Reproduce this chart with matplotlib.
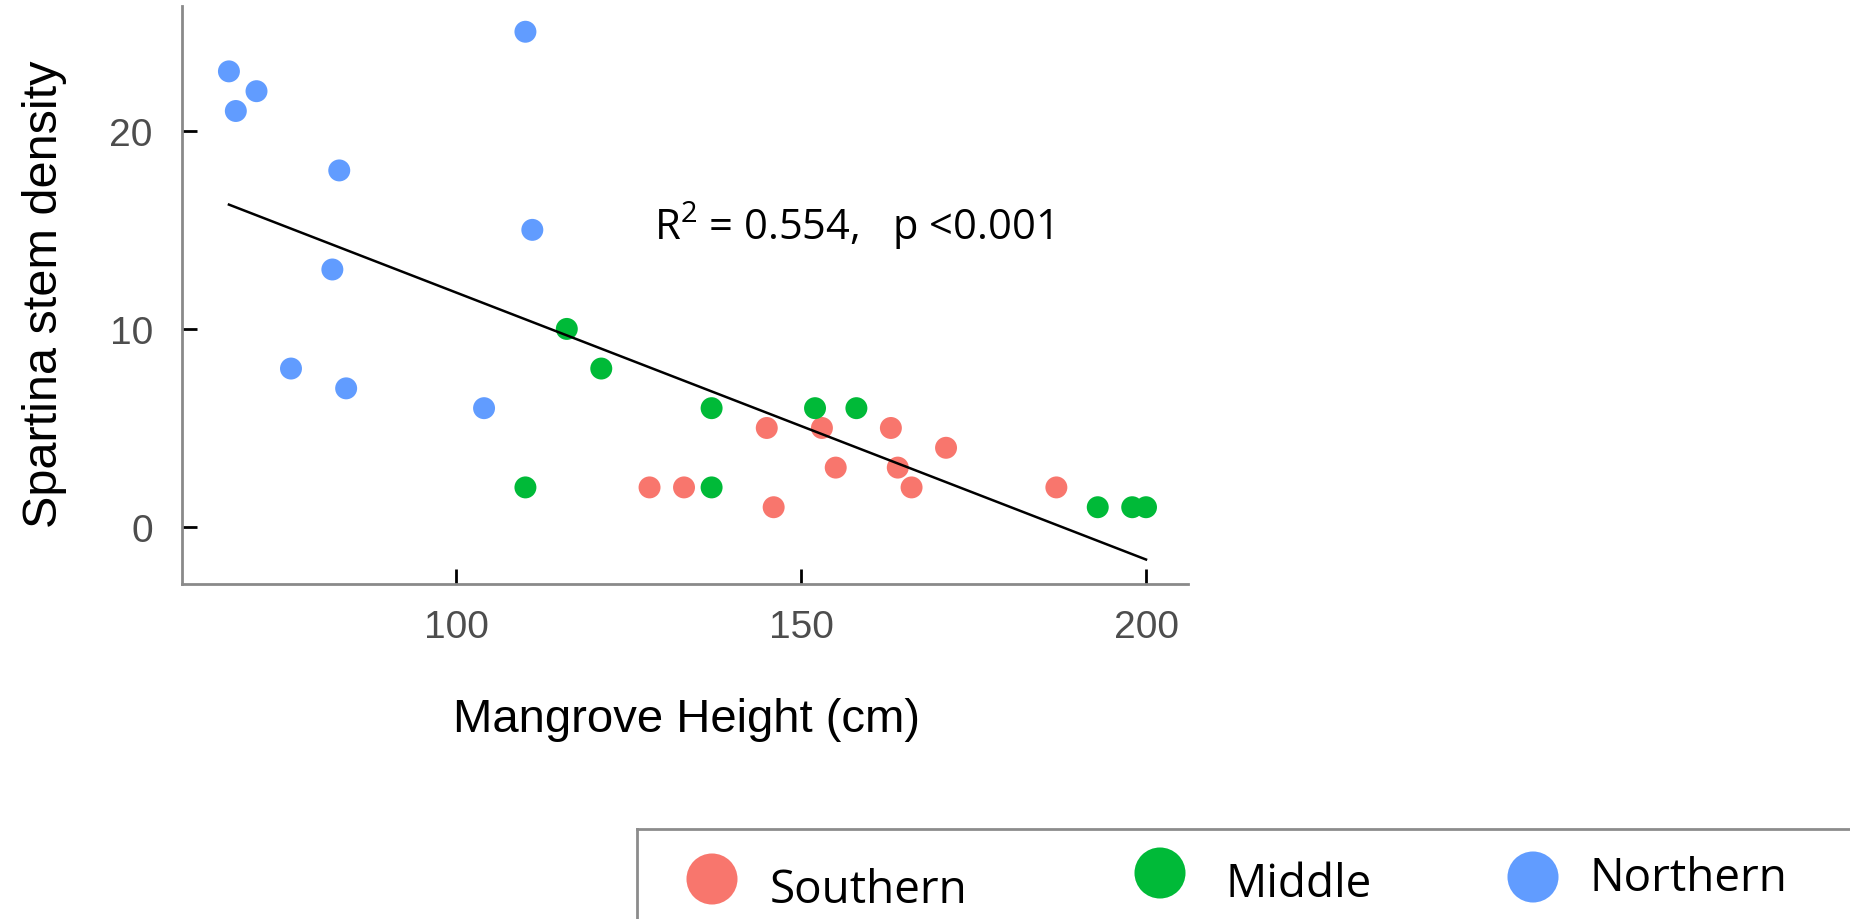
import matplotlib.pyplot as plt
import numpy as np

# Mangrove height (cm) and Spartina stem density for each site, by region
south_height = [128, 133, 145, 146, 153, 155, 163, 164, 166, 171, 187]
south_density = [2, 2, 5, 1, 5, 3, 5, 3, 2, 4, 2]
middle_height = [110, 116, 121, 137, 137, 152, 158, 193, 198, 200]
middle_density = [2, 10, 8, 6, 2, 6, 6, 1, 1, 1]
north_height = [67, 68, 71, 76, 82, 83, 84, 104, 110, 111]
north_density = [23, 21, 22, 8, 13, 18, 7, 6, 25, 15]

regions = ['Southern', 'Middle', 'Northern']
colors = ['#F8766D', '#00BA38', '#619CFF']

# linear fit of density on height
fit_intercept = 25.3
fit_slope = -0.1347
r_squared = 0.554
p_text = 'p <0.001'

plt.rcParams['mathtext.fontset'] = 'custom'
plt.rcParams['mathtext.rm'] = 'Open Sans'

groups = [(south_height, south_density), (middle_height, middle_density),
          (north_height, north_density)]

fig = plt.figure(figsize=(18.5, 9.2), dpi=100)
ax = fig.add_axes([0.0984, 0.3636, 0.5438, 0.6288])

for (h, d), c in zip(groups, colors):
    ax.scatter(h, d, s=250, color=c, edgecolors='none', zorder=3)

all_h = np.concatenate([g[0] for g in groups])
xs = np.array([all_h.min(), all_h.max()])
ax.plot(xs, fit_intercept + fit_slope * xs, color='black', lw=1.8, zorder=4)

ax.text(128.7, 14.55, f'R$^{{\\mathregular{{2}}}}$ = {r_squared:.3f},   {p_text}',
        fontsize=30, family=['Open Sans', 'DejaVu Sans'], ha='left', va='baseline')

ax.set_xlim(60.2, 206.1)
ax.set_ylim(-2.9, 26.3)
ax.set_xticks([100, 150, 200])
ax.set_yticks([0, 10, 20])
for side in ['top', 'right']:
    ax.spines[side].set_visible(False)
for side in ['left', 'bottom']:
    ax.spines[side].set_color('#8a8a8a')
    ax.spines[side].set_linewidth(2)

ax.tick_params(direction='in', length=11, width=2, color='black',
               labelsize=28, labelcolor='#4D4D4D')
ax.tick_params(axis='y', pad=21)
ax.tick_params(axis='x', pad=18)
for lab in ax.get_xticklabels() + ax.get_yticklabels():
    lab.set_family('Liberation Sans')

ax.set_xlabel('Mangrove Height (cm)', fontsize=34, family='Liberation Sans')
ax.set_ylabel('Spartina stem density', fontsize=35, family='Liberation Sans')
ax.xaxis.set_label_coords(0.501, -0.194)
ax.yaxis.set_label_coords(-0.114, 0.503)

# legend box running off the bottom-right corner
lax = fig.add_axes([637 / 1850, 0, 1 - 637 / 1850, 90.5 / 920])
lax.set_xlim(637, 1850)
lax.set_ylim(0, 90.5)
lax.set_xticks([])
lax.set_yticks([])
lax.patch.set_alpha(0)
for side in ['right', 'bottom']:
    lax.spines[side].set_visible(False)
for side in ['left', 'top']:
    lax.spines[side].set_color('#8c8c8c')
    lax.spines[side].set_linewidth(2)

marker_x = [712, 1160, 1533]
marker_y = [40, 46, 42]
text_x = [770, 1225, 1590]
text_y = [17, 23, 29]
for name, c, mx, my, tx, ty in zip(regions, colors, marker_x, marker_y, text_x, text_y):
    lax.scatter([mx], [my], s=1350, color=c, edgecolors='none', clip_on=False)
    lax.text(tx, ty, name, fontsize=33, family=['Open Sans', 'DejaVu Sans'],
             ha='left', va='baseline')

fig.savefig('out.png', dpi=100)
